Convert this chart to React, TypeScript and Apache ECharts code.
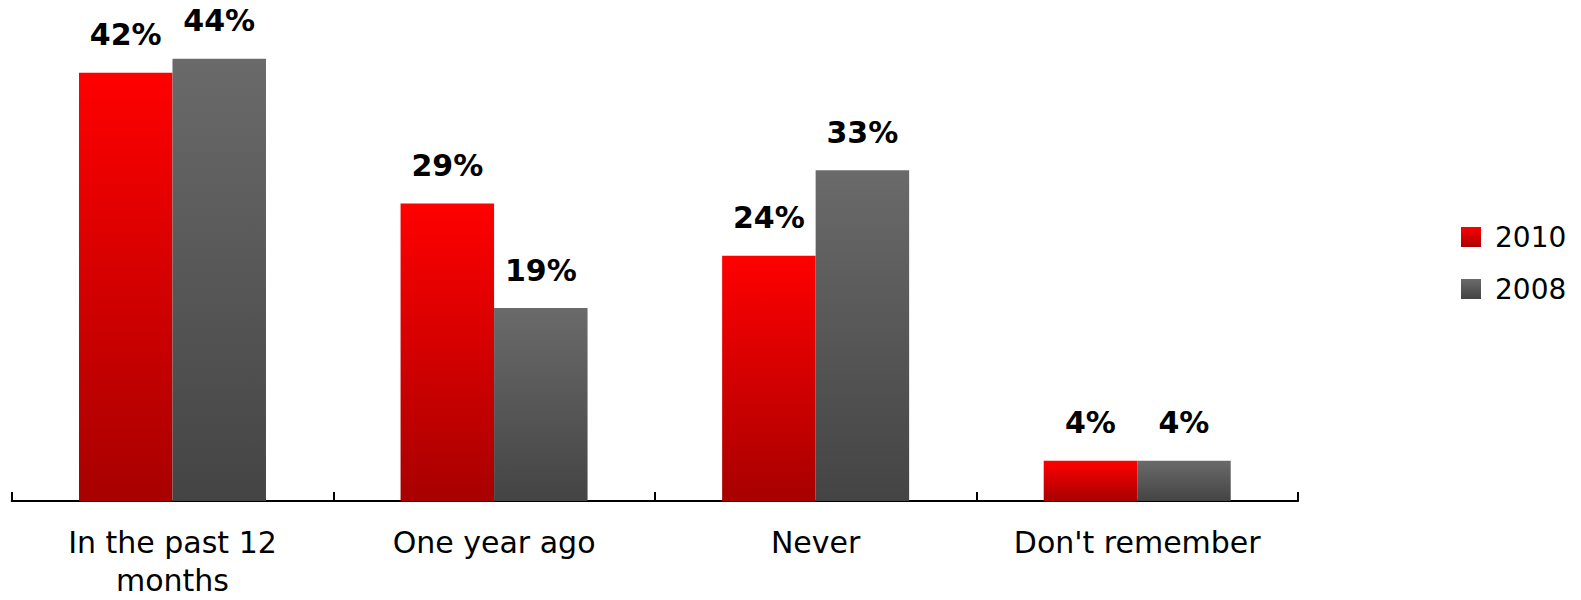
import React, { useEffect, useRef } from "react";
import * as echarts from "echarts";

const categories = ["In the past 12\nmonths", "One year ago", "Never", "Don't remember"];
const seriesNames = ["2010", "2008"];
const values2010 = [42.6, 29.6, 24.4, 4.0];
const values2008 = [44.0, 19.2, 32.9, 4.0];
const labels2010 = ["42%", "29%", "24%", "4%"];
const labels2008 = ["44%", "19%", "33%", "4%"];

const FONT = "DejaVu Sans";

function grad(top: string, bottom: string) {
  return new echarts.graphic.LinearGradient(0, 0, 0, 1, [
    { offset: 0, color: top },
    { offset: 1, color: bottom },
  ]);
}

export default function App() {
  const ref = useRef<HTMLDivElement>(null);
  useEffect(() => {
    if (!ref.current) return;
    const chart = echarts.init(ref.current, undefined, { renderer: "svg" });
    const labelCfg = (labels: string[]) => ({
      show: true,
      position: "top" as const,
      distance: 23,
      fontFamily: FONT,
      fontWeight: "bold" as const,
      fontSize: 30,
      lineHeight: 30,
      color: "#000",
      formatter: (p: any) => labels[p.dataIndex],
    });
    chart.setOption({
      animation: false,
      backgroundColor: "#fff",
      grid: {
        left: 11.7,
        right: 283,
        bottom: 99,
        top: 48.75,
        containLabel: false,
        outerBoundsMode: "none",
      },
      legend: {
        orient: "vertical",
        left: 1461,
        top: 223,
        padding: 0,
        itemWidth: 20,
        itemHeight: 20,
        itemGap: 24,
        icon: "rect",
        textStyle: {
          fontFamily: FONT,
          fontSize: 28,
          lineHeight: 28,
          color: "#000",
          padding: [0, 0, 0, 9],
        },
        data: seriesNames,
      },
      xAxis: {
        type: "category",
        data: categories,
        boundaryGap: true,
        axisLine: { show: true, lineStyle: { color: "#000", width: 2 } },
        axisTick: { show: true, inside: true, length: 9, lineStyle: { color: "#000", width: 2 } },
        axisLabel: {
          interval: 0,
          margin: 22,
          fontFamily: FONT,
          fontSize: 30,
          lineHeight: 38,
          color: "#000",
        },
      },
      yAxis: {
        type: "value",
        min: 0,
        max: 45,
        show: false,
        splitLine: { show: false },
      },
      series: [
        {
          name: seriesNames[0],
          type: "bar",
          data: values2010,
          barWidth: 93.5,
          barGap: "0%",
          itemStyle: { color: grad("#FF0000", "#A80000") },
          label: labelCfg(labels2010),
        },
        {
          name: seriesNames[1],
          type: "bar",
          data: values2008,
          barWidth: 93.5,
          barGap: "0%",
          itemStyle: { color: grad("#6A6A6A", "#444444") },
          label: labelCfg(labels2008),
        },
      ],
    });
    return () => chart.dispose();
  }, []);
  return (
    <div
      ref={ref}
      style={{ position: "fixed", left: 0, top: 0, width: 1581, height: 600, background: "#fff" }}
    />
  );
}
